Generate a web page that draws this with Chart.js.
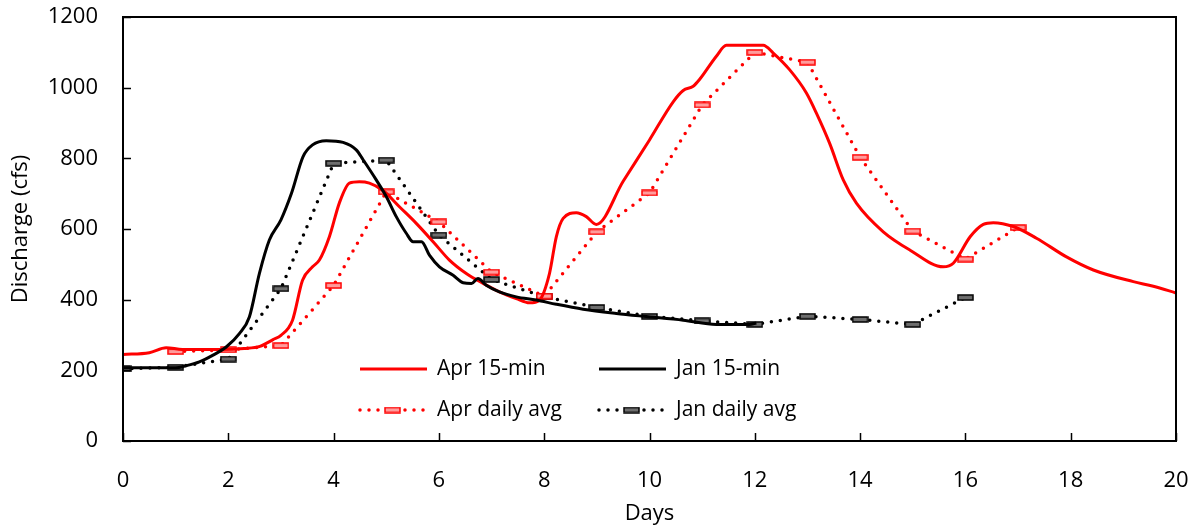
<!DOCTYPE html>
<html>
<head>
<meta charset="utf-8">
<script src="https://cdn.jsdelivr.net/npm/chart.js@4.4.1/dist/chart.umd.min.js"></script>
<style>
    body { margin: 0; background: #fff; }
    canvas { display: block; }
</style>
</head>
<body>
<canvas id="flowChart" width="1195" height="529"></canvas>
<script>

// April event, 15-minute readings (day, cfs)
const aprDays = [0,0.5,0.82,1.13,1.83,2.3,2.6,2.85,3.0,3.22,3.41,3.6,3.73,3.92,4.11,4.3,4.49,4.68,4.94,5.25,5.57,5.89,6.2,6.52,6.84,7.15,7.47,7.72,7.91,8.1,8.23,8.36,8.61,8.8,8.99,9.5,10.0,10.45,10.64,10.83,10.95,11.27,11.46,12.16,12.35,12.66,12.98,13.17,13.42,13.68,13.93,14.44,14.95,15.58,15.77,16.09,16.34,16.53,16.91,17.35,17.92,18.43,19.19,19.57,20.0];
const aprFlow = [245,250,264,259,259,262,268,287,299,342,455,493,512,578,674,730,734,730,709,663,616,564,512,474,446,422,403,391,399,474,578,630,646,635,613,735,852,960,992,1004,1023,1089,1120,1120,1098,1051,985,928,843,739,673,592,540,493,503,578,613,618,607,574,521,484,451,438,419];

// January event, 15-minute readings
const janDays = [0,1.0,1.2,1.45,1.71,1.96,2.21,2.4,2.59,2.78,3.0,3.2,3.42,3.6,3.86,4.18,4.43,4.56,4.81,5.0,5.19,5.38,5.51,5.67,5.82,6.01,6.27,6.46,6.62,6.74,6.9,7.15,7.47,7.85,8.23,8.74,9.37,9.88,10.64,11.27,11.9,12.03];
const janFlow = [207,207,213,224,243,266,304,351,474,569,626,701,805,838,850,845,824,796,739,692,635,588,564,564,526,493,469,448,446,460,441,422,408,399,387,373,361,353,342,330,330,334];

// daily averages
const aprAvgDays = [1,2,3,4,5,6,7,8,9,10,11,12,13,14,15,16,17];
const aprAvgFlow = [253,258,270,440,705,620,478,410,592,702,951,1100,1072,803,594,515,604];

const janAvgDays = [0,1,2,3,4,5,6,7,8,9,10,11,12,13,14,15,16];
const janAvgFlow = [204,209,232,431,786,795,583,457,408,378,353,340,330,353,344,330,406];

const xTicks = [0,2,4,6,8,10,12,14,16,18,20];
const yTicks = [0,200,400,600,800,1000,1200];

const FONT = "'Open Sans', sans-serif";

function toPoints(xs, ys) {
    return xs.map((x, i) => ({ x: x, y: ys[i] }));
}

// little flat dash marker used for the daily points
function makeMarker(fill, stroke) {
    const c = document.createElement('canvas');
    c.width = 17;
    c.height = 7;
    const g = c.getContext('2d');
    g.fillStyle = fill;
    g.strokeStyle = stroke;
    g.lineWidth = 1.5;
    g.fillRect(1, 1, 15, 5);
    g.strokeRect(1, 1, 15, 5);
    return c;
}

const aprMarker = makeMarker('#ff9c9c', '#ff0000');
const janMarker = makeMarker('#6e6e6e', '#000000');

// no extra room for overhanging tick labels
function noOverhang(s) {
    s.paddingTop = 0;
    s.paddingBottom = 0;
    s.paddingLeft = 0;
    s.paddingRight = 0;
}

// inward tick marks and the box around the plot
const frame = {
    id: 'frame',
    afterDatasetsDraw(chart) {
        const ctx = chart.ctx;
        const a = chart.chartArea;
        const xs = chart.scales.x;
        const ys = chart.scales.y;
        ctx.save();
        ctx.strokeStyle = '#000';
        ctx.lineWidth = 2;
        ctx.strokeRect(a.left, a.top, a.right - a.left, a.bottom - a.top);
        ctx.beginPath();
        xTicks.forEach(v => {
            const px = Math.round(xs.getPixelForValue(v)) + 0.5;
            ctx.moveTo(px, a.bottom);
            ctx.lineTo(px, a.bottom - 8);
        });
        yTicks.forEach(v => {
            const py = Math.round(ys.getPixelForValue(v)) + 0.5;
            ctx.moveTo(a.left, py);
            ctx.lineTo(a.left + 8, py);
        });
        ctx.lineWidth = 1.5;
        ctx.stroke();
        ctx.restore();
    }
};

// legend drawn inside the plot, two columns
const insideLegend = {
    id: 'insideLegend',
    afterDraw(chart) {
        const ctx = chart.ctx;
        const items = [
            { label: 'Apr 15-min', color: '#ff0000', dotted: false, x: 358, y: 369 },
            { label: 'Jan 15-min', color: '#000000', dotted: false, x: 597, y: 369 },
            { label: 'Apr daily avg', color: '#ff0000', dotted: true, marker: aprMarker, x: 358, y: 410 },
            { label: 'Jan daily avg', color: '#000000', dotted: true, marker: janMarker, x: 597, y: 410 }
        ];
        ctx.save();
        items.forEach(it => {
            ctx.strokeStyle = it.color;
            ctx.beginPath();
            if (it.dotted) {
                ctx.lineWidth = 3.5;
                ctx.lineCap = 'round';
                ctx.setLineDash([0, 9]);
            } else {
                ctx.lineWidth = 3;
                ctx.lineCap = 'butt';
                ctx.setLineDash([]);
            }
            ctx.moveTo(it.x + 2, it.y);
            ctx.lineTo(it.x + 69, it.y);
            ctx.stroke();
            if (it.marker) {
                ctx.fillStyle = '#fff';
                ctx.fillRect(it.x + 24, it.y - 4, 21, 8);
                ctx.drawImage(it.marker, it.x + 26, it.y - 3.5);
            }
            ctx.setLineDash([]);
            ctx.fillStyle = '#000';
            ctx.font = '21px ' + FONT;
            ctx.textBaseline = 'middle';
            ctx.textAlign = 'left';
            ctx.fillText(it.label, it.x + 79, it.y);
        });
        ctx.restore();
    }
};

new Chart(
    document.getElementById('flowChart').getContext('2d'),
    {
        type: 'scatter',
        data: {
            datasets: [
                {
                    label: 'Apr daily avg',
                    data: toPoints(aprAvgDays, aprAvgFlow),
                    showLine: true,
                    borderColor: '#ff0000',
                    borderWidth: 3.5,
                    borderDash: [0, 9],
                    borderCapStyle: 'round',
                    pointStyle: aprMarker,
                    pointRadius: 8,
                    order: 3
                },
                {
                    label: 'Jan daily avg',
                    data: toPoints(janAvgDays, janAvgFlow),
                    showLine: true,
                    borderColor: '#000000',
                    borderWidth: 3.5,
                    borderDash: [0, 9],
                    borderCapStyle: 'round',
                    pointStyle: janMarker,
                    pointRadius: 8,
                    order: 4
                },
                {
                    label: 'Apr 15-min',
                    data: toPoints(aprDays, aprFlow),
                    showLine: true,
                    borderColor: '#ff0000',
                    borderWidth: 3,
                    pointRadius: 0,
                    cubicInterpolationMode: 'monotone',
                    order: 2
                },
                {
                    label: 'Jan 15-min',
                    data: toPoints(janDays, janFlow),
                    showLine: true,
                    borderColor: '#000000',
                    borderWidth: 3,
                    pointRadius: 0,
                    cubicInterpolationMode: 'monotone',
                    order: 1
                }
            ]
        },
        options: {
            responsive: false,
            devicePixelRatio: 1,
            animation: false,
            layout: {
                padding: { top: 17, right: 19, left: 0, bottom: 0 }
            },
            plugins: {
                legend: { display: false },
                tooltip: { enabled: false }
            },
            scales: {
                x: {
                    type: 'linear',
                    min: 0,
                    max: 20,
                    afterFit: s => { s.height = 88; noOverhang(s); },
                    afterBuildTicks: s => { s.ticks = xTicks.map(v => ({ value: v })); },
                    grid: { display: false, drawTicks: false },
                    border: { display: false },
                    ticks: {
                        padding: 27,
                        color: '#000',
                        font: { family: FONT, size: 22 },
                        maxRotation: 0,
                        callback: v => String(v)
                    },
                    title: {
                        display: true,
                        text: 'Days',
                        color: '#000',
                        font: { family: FONT, size: 22 },
                        padding: { top: 0, bottom: 2 }
                    }
                },
                y: {
                    min: 0,
                    max: 1200,
                    afterFit: s => { s.width = 123; noOverhang(s); },
                    afterBuildTicks: s => { s.ticks = yTicks.map(v => ({ value: v })); },
                    grid: { display: false, drawTicks: false },
                    border: { display: false },
                    ticks: {
                        padding: 25,
                        color: '#000',
                        font: { family: FONT, size: 22 },
                        callback: v => String(v)
                    },
                    title: {
                        display: true,
                        text: 'Discharge (cfs)',
                        color: '#000',
                        font: { family: FONT, size: 22 },
                        padding: { top: 8, bottom: 0 }
                    }
                }
            }
        },
        plugins: [frame, insideLegend]
    }
);
</script>
</body>
</html>
